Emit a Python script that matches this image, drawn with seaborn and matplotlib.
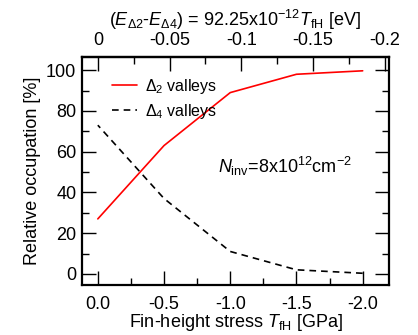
import numpy as np
import pandas as pd
import seaborn as sns
import matplotlib
matplotlib.use("Agg")
import matplotlib.pyplot as plt
from matplotlib.ticker import MultipleLocator, FuncFormatter, FixedLocator

# datos
stress_gpa = [0.0, -0.5, -1.0, -1.5, -2.0]
delta2_occ = [27, 63, 89, 98, 99.7]
delta4_occ = [73, 37, 11, 2, 0.3]
series_names = ["Δ$_2$ valleys", "Δ$_4$ valleys"]
energy_ticks = [0, -0.05, -0.1, -0.15, -0.2]

coef = 92.25e-12 * 1e9  # eV por GPa

sns.set_style("ticks", {'axes.edgecolor': 'black', 'xtick.color': 'black',
                        'ytick.color': 'black', 'text.color': 'black',
                        'axes.labelcolor': 'black'})
plt.rcParams['font.family'] = ['Liberation Sans', 'DejaVu Sans']
plt.rcParams['mathtext.fontset'] = 'custom'
plt.rcParams['mathtext.rm'] = 'Liberation Sans'
plt.rcParams['mathtext.it'] = 'Liberation Sans:italic'
plt.rcParams['axes.unicode_minus'] = False
plt.rcParams['font.size'] = 13

df = pd.DataFrame({
    'stress': stress_gpa * 2,
    'occ': delta2_occ + delta4_occ,
    'valle': [series_names[0]] * 5 + [series_names[1]] * 5,
})

fig = plt.figure(figsize=(4.18, 3.35), dpi=100)
ax = fig.add_axes([0.196, 0.149, 0.735, 0.681])

sns.lineplot(data=df[df['valle'] == series_names[0]], x='stress', y='occ',
             color='#ff0000', lw=1.2, ax=ax, label=series_names[0])
sns.lineplot(data=df[df['valle'] == series_names[1]], x='stress', y='occ',
             color='black', lw=1.2, ax=ax, label=series_names[1])
ax.lines[1].set_dashes((4, 3))

ax.set_xlim(0.12, -2.2)
ax.set_ylim(-5.5, 106.5)
ax.xaxis.set_major_locator(MultipleLocator(0.5))
ax.xaxis.set_minor_locator(MultipleLocator(0.25))
ax.yaxis.set_major_locator(MultipleLocator(20))
ax.yaxis.set_minor_locator(MultipleLocator(10))
ax.xaxis.set_major_formatter(FuncFormatter(lambda v, p: f"{v:.1f}"))
ax.tick_params(which='both', direction='in', right=True, top=False, width=1,
               labelsize=13)
ax.tick_params(which='major', length=10)
ax.tick_params(which='minor', length=5)
ax.tick_params(axis='x', pad=8)
ax.tick_params(axis='y', pad=4)
for s in ax.spines.values():
    s.set_linewidth(1.6)
    s.set_visible(True)
    s.set_color('black')

ax.set_xlabel("Fin-height stress $T_{\\rm fH}$ [GPa]", fontsize=13, labelpad=-1)
ax.set_ylabel("Relative occupation [%]", fontsize=13, labelpad=4)

sec = ax.secondary_xaxis('top', functions=(lambda t: coef * t, lambda e: e / coef))
sec.xaxis.set_major_locator(FixedLocator(energy_ticks))
sec.xaxis.set_minor_locator(FixedLocator([-0.025, -0.075, -0.125, -0.175]))
sec.xaxis.set_major_formatter(FuncFormatter(lambda v, p: f"{v:g}" if abs(v) > 1e-9 else "0"))
sec.tick_params(which='both', direction='in', width=1, labelsize=13, pad=6)
sec.tick_params(which='major', length=10)
sec.tick_params(which='minor', length=5)
sec.spines['top'].set_linewidth(1.6)
sec.set_xlabel("($E_{\\Delta2}$-$E_{\\Delta4}$) = 92.25x10$^{-12}$$T_{\\rm fH}$ [eV]",
               fontsize=13, labelpad=4)

ax.legend(loc='upper left', bbox_to_anchor=(0.05, 0.975), frameon=False,
          handlelength=1.6, handletextpad=0.5, labelspacing=0.35, fontsize=11.5)

ax.text(0.443, 0.491, "$N_{\\rm inv}$=8x10$^{12}$cm$^{-2}$", transform=ax.transAxes,
        fontsize=13, va='baseline', ha='left')

plt.savefig("out.png", dpi=100)
